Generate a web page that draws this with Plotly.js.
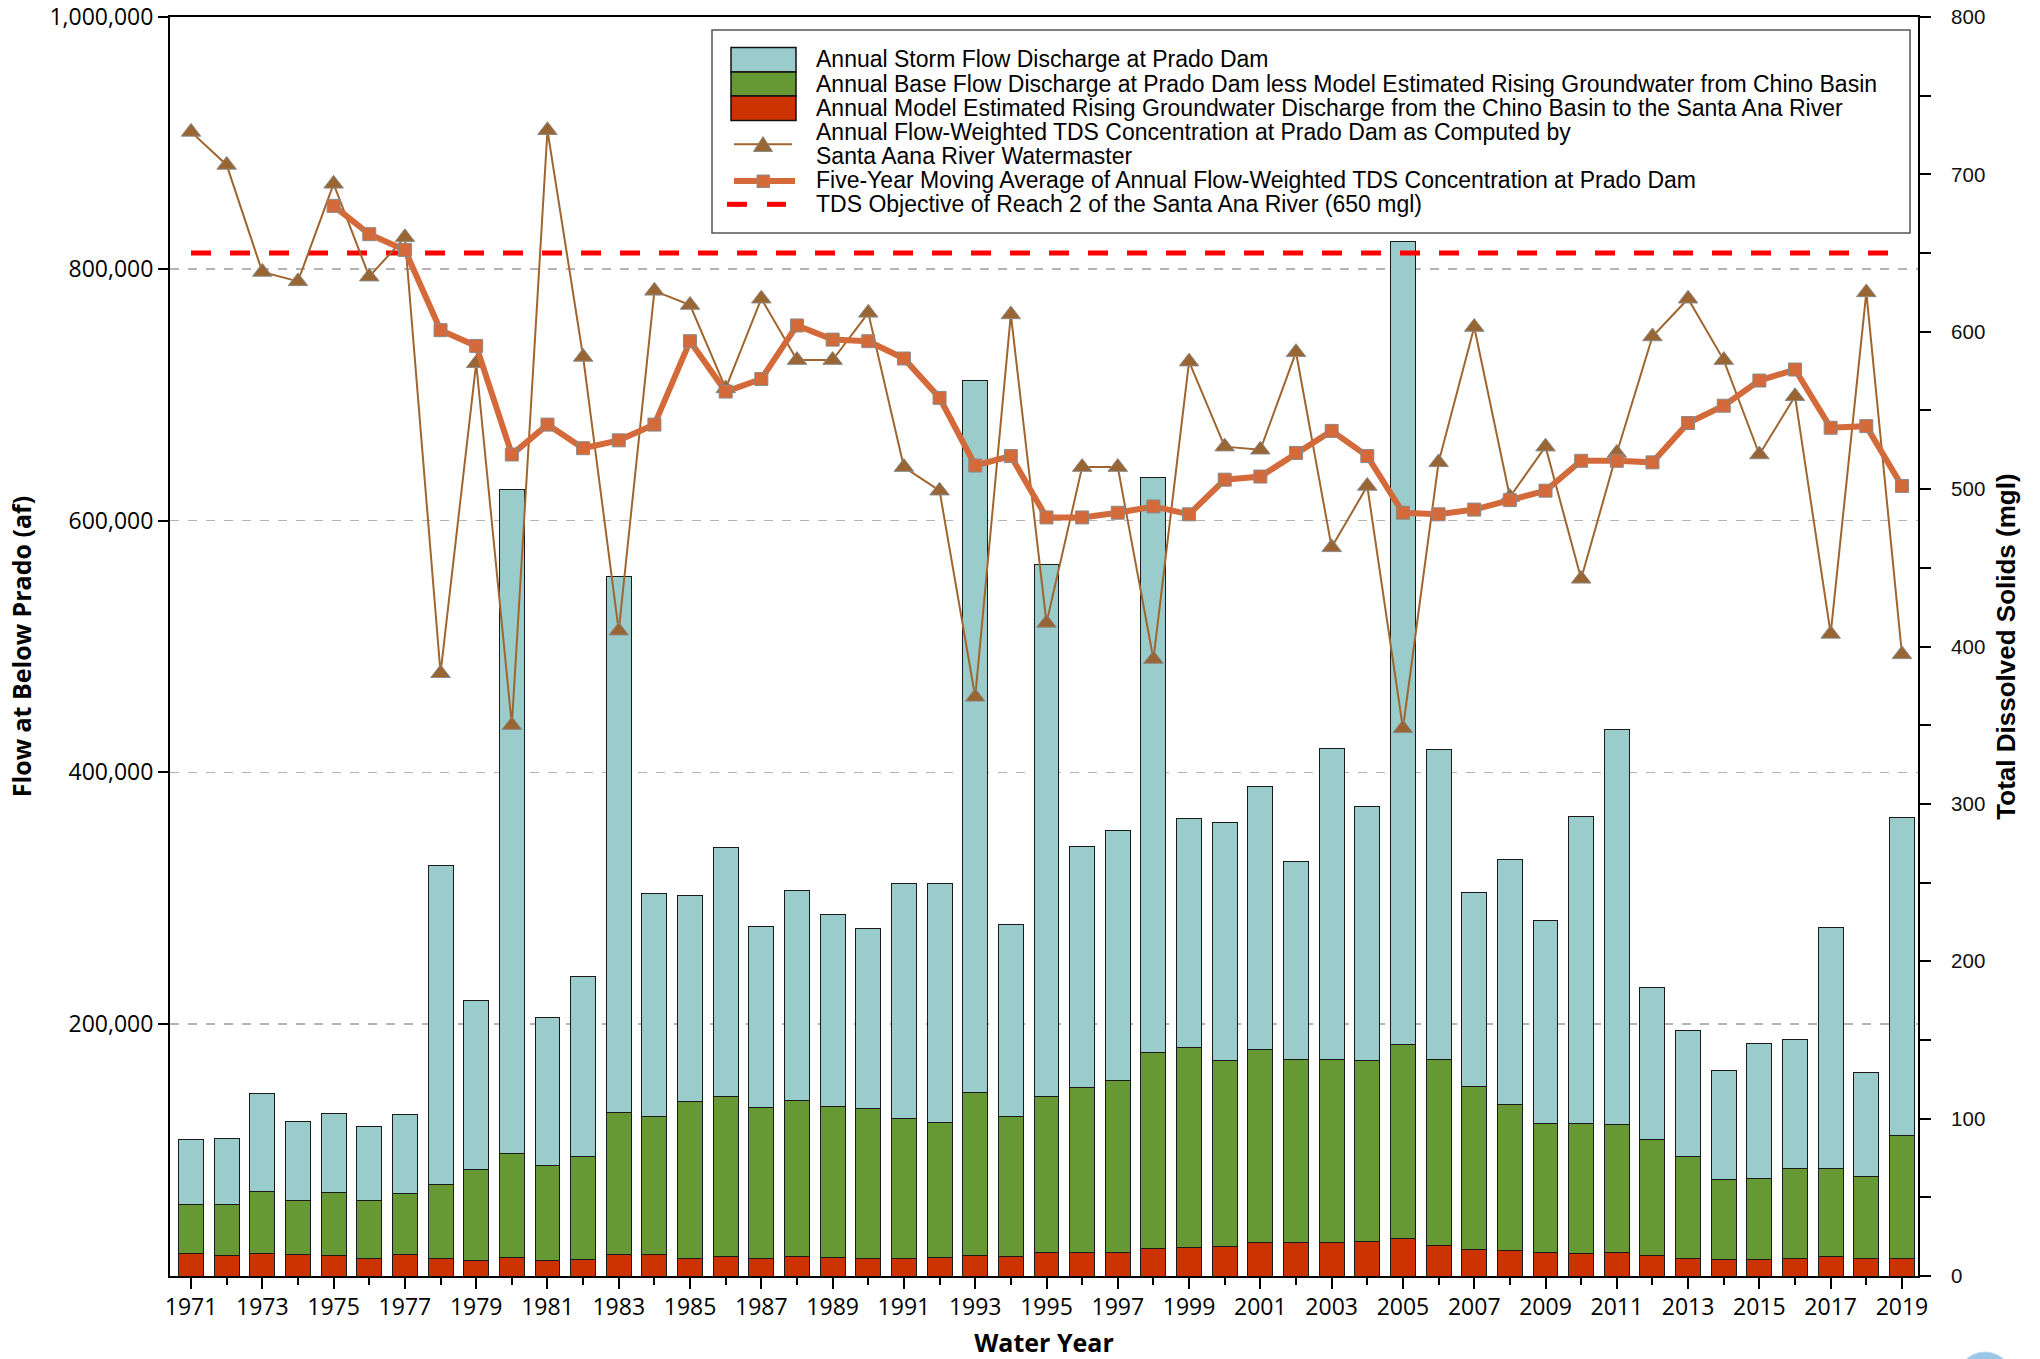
<!DOCTYPE html>
<html>
<head>
<meta charset="utf-8">
<script src="https://cdn.plot.ly/plotly-3.0.1.min.js"></script>
<style>
  html, body { margin: 0; padding: 0; background: #fff; }
  #chart { width: 2040px; height: 1359px; }
</style>
</head>
<body>
<div id="chart"></div>
<script>
'use strict'

// data (flows in af, TDS in mgl)

const years = [
  1971, 1972, 1973, 1974, 1975, 1976, 1977, 1978, 1979, 1980,
  1981, 1982, 1983, 1984, 1985, 1986, 1987, 1988, 1989, 1990,
  1991, 1992, 1993, 1994, 1995, 1996, 1997, 1998, 1999, 2000,
  2001, 2002, 2003, 2004, 2005, 2006, 2007, 2008, 2009, 2010,
  2011, 2012, 2013, 2014, 2015, 2016, 2017, 2018, 2019
]

const risingGw = [
  18000, 16400, 18000, 16900, 16400, 14000, 16900, 14000, 12400, 14800,
  12700, 13200, 17400, 16900, 14000, 15600, 14300, 15300, 14800, 13700,
  14000, 14800, 16600, 15300, 19000, 18500, 19000, 22200, 22700, 23300,
  26400, 26400, 26400, 27800, 29600, 24600, 21400, 20100, 18500, 18000,
  18800, 15900, 13700, 13200, 13500, 14000, 15300, 13700, 13700
]

const baseFlow = [
  38600, 40700, 48900, 43100, 50200, 45700, 48400, 58700, 71900, 82200,
  74800, 81400, 112100, 109400, 125000, 127100, 119700, 124000, 119500, 119300,
  111000, 106800, 128800, 111300, 123200, 131400, 136200, 155700, 158900, 148000,
  153600, 145900, 145900, 143200, 154400, 147400, 129500, 116100, 102600, 103100,
  101500, 92500, 81500, 63500, 64000, 71100, 69800, 65600, 98100
]

const stormFlow = [
  51800, 51800, 77700, 62700, 62100, 59200, 62900, 253300, 134600, 528000,
  118100, 143500, 426500, 177700, 163000, 197300, 143300, 166700, 152800, 143200,
  186500, 189900, 566100, 152800, 422800, 191100, 198800, 456600, 182100, 189200,
  209000, 156700, 246600, 202000, 638000, 246000, 154100, 194800, 160900, 243700,
  313500, 121000, 99600, 86400, 107500, 102600, 191700, 82500, 252200
]

const tdsAnnual = [
  727, 706, 638, 632, 694, 635, 660, 383, 580, 350,
  728, 584, 410, 626, 617, 564, 621, 582, 582, 612,
  514, 499, 368, 611, 415, 514, 514, 392, 581, 527,
  525, 587, 463, 502, 348, 517, 603, 495, 527, 443,
  523, 597, 621, 582, 522, 559, 408, 625, 395
]

// five-year moving average starts with 1975
const avgYears = years.slice(4)
const tdsMovingAvg = [
  680, 662, 652, 601, 591, 522,
  541, 526, 531, 541, 594, 562, 570, 604, 595, 594,
  583, 558, 515, 521, 482, 482, 485, 489, 484, 506,
  508, 523, 537, 521, 485, 484, 487, 493, 499, 518,
  518, 517, 542, 553, 569, 576, 539, 540, 502
]

const tdsObjective = 650

const flowTicks = [200000, 400000, 600000, 800000, 1000000]
const flowTickText = ['200,000', '400,000', '600,000', '800,000', '1,000,000']

const legendLabels = [
  'Annual Storm Flow Discharge at Prado Dam',
  'Annual Base Flow Discharge at Prado Dam less Model Estimated Rising Groundwater from Chino Basin',
  'Annual Model Estimated Rising Groundwater Discharge from the Chino Basin to the Santa Ana River',
  'Annual Flow-Weighted TDS Concentration at Prado Dam as Computed by',
  'Santa Aana River Watermaster',
  'Five-Year Moving Average of Annual Flow-Weighted TDS Concentration at Prado Dam',
  'TDS Objective of Reach 2 of the Santa Ana River (650 mgl)'
]

///////////////////////////////////////////////////////

const colors = {
  storm: '#9BCCCC',
  base: '#669933',
  rising: '#CC3300',
  tds: '#996633',
  tdsLine: '#A0652E',
  avg: '#D4693A',
  objective: '#FF0000'
}

// plot area in page pixels, used for the hand made legend box
const plot = { l: 170, r: 1918, t: 17, b: 1276 }
const px = x => (x - plot.l) / (plot.r - plot.l)
const py = y => (plot.b - y) / (plot.b - plot.t)

const barStyle = color => ({ color: color, line: { color: '#1a1a1a', width: 1 } })

const traces = [
  {
    type: 'bar', name: legendLabels[2], x: years, y: risingGw,
    marker: barStyle(colors.rising), hoverinfo: 'x+y'
  },
  {
    type: 'bar', name: legendLabels[1], x: years, y: baseFlow,
    marker: barStyle(colors.base), hoverinfo: 'x+y'
  },
  {
    type: 'bar', name: legendLabels[0], x: years, y: stormFlow,
    marker: barStyle(colors.storm), hoverinfo: 'x+y'
  },
  {
    type: 'scatter', mode: 'lines', name: legendLabels[6], yaxis: 'y2',
    x: [years[0], years[years.length - 1]], y: [tdsObjective, tdsObjective],
    line: { color: colors.objective, width: 5, dash: '20px,19px' }
  },
  {
    type: 'scatter', mode: 'lines+markers', name: legendLabels[3] + ' ' + legendLabels[4], yaxis: 'y2',
    x: years, y: tdsAnnual,
    line: { color: colors.tdsLine, width: 2 },
    marker: { symbol: 'triangle-up', size: 17, color: colors.tds, line: { color: '#8a8a8a', width: 1 } }
  },
  {
    type: 'scatter', mode: 'lines+markers', name: legendLabels[5], yaxis: 'y2',
    x: avgYears, y: tdsMovingAvg,
    line: { color: colors.avg, width: 6 },
    marker: { symbol: 'square', size: 13, color: colors.avg, line: { color: '#8a8a8a', width: 1 } }
  }
]

// legend drawn by hand, so that rows sit as tight as in the original

const lx0 = 731, lx1 = 796
const rowY = [59.3, 83.5, 107.7, 131.7, 156, 180.5, 204.3]

const shapes = [
  { type: 'rect', xref: 'paper', yref: 'paper', x0: px(712), x1: px(1910), y0: py(233), y1: py(30),
    fillcolor: '#fff', line: { color: '#555', width: 1.5 }, layer: 'above' },
  { type: 'rect', xref: 'paper', yref: 'paper', x0: px(lx0), x1: px(lx1), y0: py(72), y1: py(47.5),
    fillcolor: colors.storm, line: { color: '#111', width: 1.5 }, layer: 'above' },
  { type: 'rect', xref: 'paper', yref: 'paper', x0: px(lx0), x1: px(lx1), y0: py(96), y1: py(72),
    fillcolor: colors.base, line: { color: '#111', width: 1.5 }, layer: 'above' },
  { type: 'rect', xref: 'paper', yref: 'paper', x0: px(lx0), x1: px(lx1), y0: py(120.5), y1: py(96),
    fillcolor: colors.rising, line: { color: '#111', width: 1.5 }, layer: 'above' },
  { type: 'line', xref: 'paper', yref: 'paper', x0: px(734), x1: px(792), y0: py(144.3), y1: py(144.3),
    line: { color: colors.tdsLine, width: 2 }, layer: 'above' },
  { type: 'path', xref: 'paper', yref: 'paper', layer: 'above',
    path: `M ${px(753.5)},${py(151.5)} L ${px(772.5)},${py(151.5)} L ${px(763)},${py(136.5)} Z`,
    fillcolor: colors.tds, line: { color: '#8a8a8a', width: 1 } },
  { type: 'line', xref: 'paper', yref: 'paper', x0: px(734), x1: px(795), y0: py(181), y1: py(181),
    line: { color: colors.avg, width: 6 }, layer: 'above' },
  { type: 'rect', xref: 'paper', yref: 'paper', x0: px(757), x1: px(769.5), y0: py(187.5), y1: py(175),
    fillcolor: colors.avg, line: { color: '#8a8a8a', width: 1 }, layer: 'above' },
  { type: 'line', xref: 'paper', yref: 'paper', x0: px(727), x1: px(747), y0: py(204.3), y1: py(204.3),
    line: { color: colors.objective, width: 5 }, layer: 'above' },
  { type: 'line', xref: 'paper', yref: 'paper', x0: px(767), x1: px(786), y0: py(204.3), y1: py(204.3),
    line: { color: colors.objective, width: 5 }, layer: 'above' },
  // the round blue badge peeking in at the bottom right corner
  { type: 'circle', xref: 'paper', yref: 'paper', x0: px(1957), x1: px(2013), y0: py(1408), y1: py(1352),
    fillcolor: '#9cc6e6', line: { color: '#b9d9ef', width: 1 }, layer: 'above' }
]

const annotations = legendLabels.map((txt, i) => ({
  xref: 'paper', yref: 'paper', x: px(814), y: py(rowY[i]),
  xanchor: 'left', yanchor: 'middle', showarrow: false, text: txt,
  font: { family: 'Liberation Sans, Arial, sans-serif', size: 23, color: '#000' }
}))

const tickFont = { family: 'Open Sans, sans-serif', size: 23, color: '#000' }
const titleFont = { family: 'Open Sans, sans-serif', size: 25, color: '#000', weight: 'bold' }

const layout = {
  width: 2040,
  height: 1359,
  margin: { l: plot.l, r: 2040 - plot.r, t: plot.t, b: 1359 - plot.b },
  paper_bgcolor: '#fff',
  plot_bgcolor: '#fff',
  barmode: 'stack',
  bargap: 0.3,
  showlegend: false,
  xaxis: {
    range: [1970.41, 2019.45],
    tickmode: 'linear', tick0: 1971, dtick: 2,
    ticks: 'outside', ticklen: 11, tickwidth: 2, tickcolor: '#000',
    minor: { tick0: 1971, dtick: 1, ticks: 'outside', ticklen: 7, tickwidth: 2, tickcolor: '#000' },
    ticklabelstandoff: -2,
    tickfont: tickFont,
    showgrid: false, zeroline: false,
    showline: true, linecolor: '#000', linewidth: 2, mirror: true,
    title: { text: 'Water Year', font: titleFont, standoff: 14 }
  },
  yaxis: {
    range: [0, 1000000],
    tickmode: 'array',
    tickvals: flowTicks,
    ticktext: flowTickText,
    ticklabeloverflow: 'allow',
    ticks: 'outside', ticklen: 10, tickwidth: 2, tickcolor: '#000',
    tickfont: tickFont,
    showgrid: true, gridcolor: '#b4b4b4', gridwidth: 1.5, griddash: 'dash',
    zeroline: false,
    showline: true, linecolor: '#000', linewidth: 2,
    title: { text: 'Flow at Below Prado (af)', font: titleFont, standoff: 11 }
  },
  yaxis2: {
    overlaying: 'y', side: 'right',
    range: [0, 800],
    tickmode: 'linear', tick0: 0, dtick: 100,
    ticklabeloverflow: 'allow',
    ticks: 'outside', ticklen: 11, tickwidth: 2, tickcolor: '#000',
    minor: { tick0: 0, dtick: 50, ticks: 'outside', ticklen: 11, tickwidth: 2, tickcolor: '#000' },
    ticklabelstandoff: 16,
    tickfont: { family: 'Liberation Sans, Arial, sans-serif', size: 20.5, color: '#111' },
    showgrid: false, zeroline: false,
    showline: true, linecolor: '#000', linewidth: 2,
    title: { text: 'Total Dissolved Solids (mgl)', standoff: 12,
      font: { family: 'Liberation Sans, Arial, sans-serif', size: 26, color: '#000', weight: 'bold' } }
  },
  shapes: shapes,
  annotations: annotations
}

Plotly.newPlot('chart', traces, layout, { displayModeBar: false, staticPlot: true })
</script>
</body>
</html>
